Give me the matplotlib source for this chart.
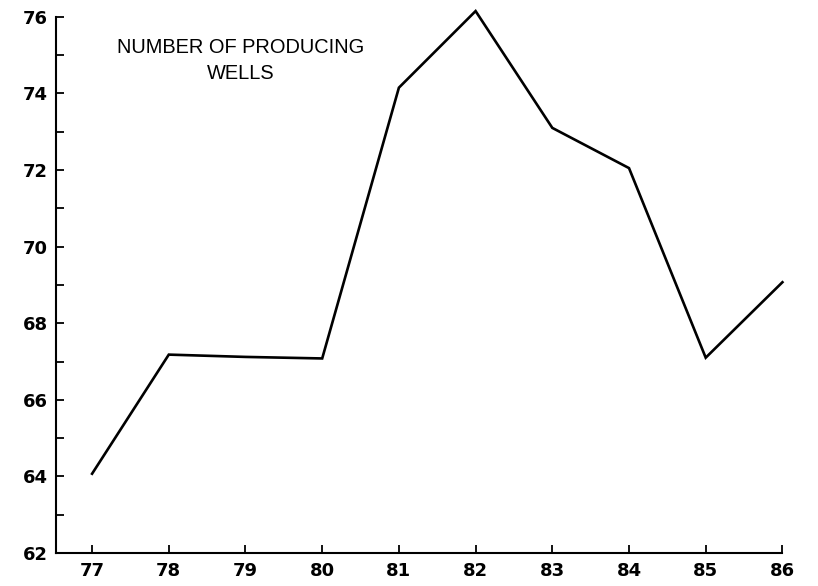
import matplotlib.pyplot as plt
from matplotlib.ticker import MultipleLocator

# year (19xx) vs number of producing wells
years = [77, 78, 79, 80, 81, 82, 83, 84, 85, 86]
wells = [64.07, 67.18, 67.12, 67.08, 74.15, 76.15, 73.1, 72.05, 67.1, 69.07]
title = 'NUMBER OF PRODUCING\nWELLS'

fig = plt.figure(figsize=(8.18, 5.86), dpi=100)
ax = fig.add_axes([0.0685, 0.0563, 0.888, 0.915])

ax.plot(years, wells, color='black', lw=1.9, clip_on=False, solid_joinstyle='miter')

ax.set_xlim(76.53, 86)
ax.set_ylim(62, 76)
ax.set_xticks(years)
ax.yaxis.set_major_locator(MultipleLocator(2))
ax.yaxis.set_minor_locator(MultipleLocator(1))

for s in ['top', 'right']:
    ax.spines[s].set_visible(False)
for s in ['left', 'bottom']:
    ax.spines[s].set_linewidth(1.5)

ax.tick_params(which='both', direction='in', length=6, width=1.3, color='black')
ax.tick_params(axis='x', pad=6.5)
ax.tick_params(axis='y', pad=6)
for lab in ax.get_xticklabels() + ax.get_yticklabels():
    lab.set_fontsize(13)
    lab.set_fontweight('bold')
    lab.set_family('DejaVu Sans')

ax.text(0.2545, 0.96, title, transform=ax.transAxes, ha='center', va='top',
        fontsize=14.4, family='Liberation Sans', linespacing=1.45)

fig.savefig('out.png', dpi=100)
